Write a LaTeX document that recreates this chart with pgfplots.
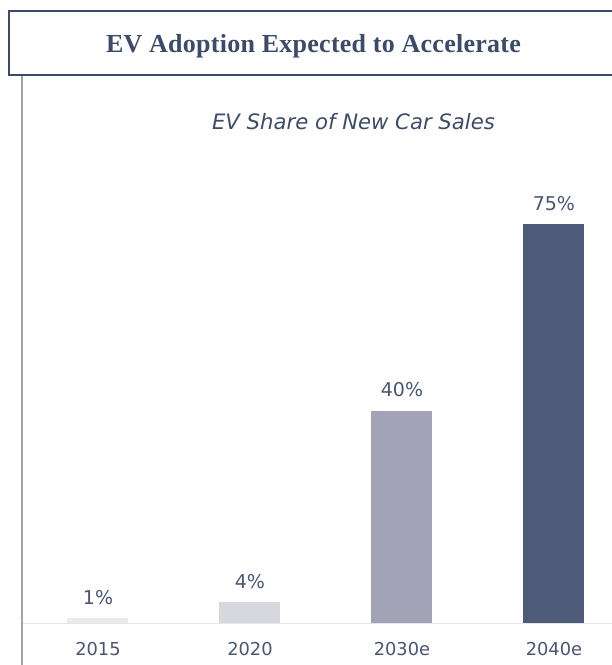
\documentclass[border=0pt]{standalone}
\usepackage{pgfplots}
\pgfplotsset{compat=1.18}
\usepackage{fontspec}
\setmainfont{DejaVu Sans}
\newfontfamily\titlefont[LetterSpace=1]{Liberation Serif}
\definecolor{titleblue}{HTML}{3D4B6A}
\definecolor{textblue}{HTML}{4A5575}
\definecolor{barA}{HTML}{EBEBEE}
\definecolor{barB}{HTML}{D7D7DE}
\definecolor{barC}{HTML}{A2A3B6}
\definecolor{barD}{HTML}{4D5B78}
\definecolor{vline}{HTML}{A0A3B8}
\definecolor{baseln}{HTML}{E6E6EA}
\begin{document}
\begin{tikzpicture}[x=1pt,y=1pt]
\useasboundingbox (0,0) rectangle (612,665);
\clip (0,0) rectangle (612,665);
\fill[white] (0,0) rectangle (612,665);
\draw[titleblue, line width=2pt] (9,590) rectangle (640,654);
\node[font=\titlefont\bfseries\fontsize{26}{30}\selectfont, text=titleblue, anchor=base] at (313.5,612.3) {EV Adoption Expected to Accelerate};
\node[font=\itshape\fontsize{21.2}{24}\selectfont, text=titleblue, anchor=base] at (353.5,535.7) {EV Share of New Car Sales};
\begin{axis}[
  at={(22pt,41.5pt)}, anchor=south west,
  width=590pt, height=546pt, scale only axis,
  xmin=-0.5, xmax=3.382, ymin=0, ymax=102.6,
  axis line style={draw=none},
  /pgf/number format/assume math mode=true,
  ytick=\empty,
  xtick={0,1,2,3},
  xticklabels={2015,2020,2030e,2040e},
  xtick style={draw=none},
  major tick length=0pt,
  xticklabel style={font=\fontsize{17.8}{20}\selectfont, text=textblue, inner sep=0pt, anchor=north, yshift=-18.5pt},
  ybar, bar width=61pt,
  nodes near coords={\pgfmathprintnumber[assume math mode=true]{\pgfplotspointmeta}\%},
  nodes near coords style={font=\fontsize{19}{22}\selectfont, text=textblue, inner sep=0pt, anchor=south, yshift=13.7pt},
  clip=false,
]
\addplot[ybar, bar shift=0pt, fill=barA, draw=none] coordinates {(0,1)};
\addplot[ybar, bar shift=0pt, fill=barB, draw=none] coordinates {(1,4)};
\addplot[ybar, bar shift=0pt, fill=barC, draw=none] coordinates {(2,40)};
\addplot[ybar, bar shift=0pt, fill=barD, draw=none] coordinates {(3,75)};
\end{axis}
\draw[baseln, line width=1.5pt] (22,41.5) -- (612,41.5);
\draw[vline, line width=2.5pt] (22,0) -- (22,589);
\end{tikzpicture}
\end{document}
